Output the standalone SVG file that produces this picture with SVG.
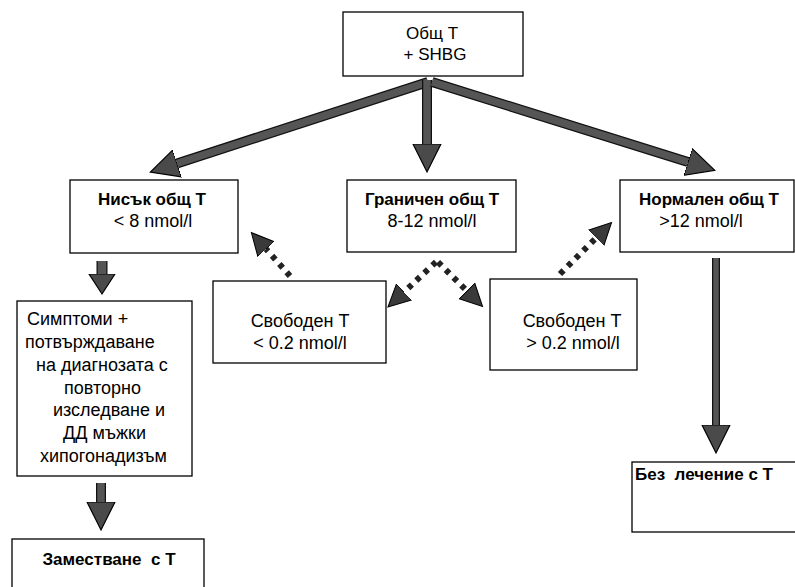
<svg xmlns="http://www.w3.org/2000/svg" width="795" height="587" viewBox="0 0 795 587">
<style>
.box{fill:#fff;stroke:#000;stroke-width:1.3}
text{font-family:"Liberation Sans",Arial,sans-serif;font-size:18px;fill:#000}
.b{font-weight:bold;font-size:17px}
.c{text-anchor:middle}
.t{font-size:17px}
.thick{stroke:#555;fill:none}
.edge{stroke:#111;fill:none}
.dot{stroke:#222;stroke-width:6;stroke-dasharray:5 6;fill:none}
</style>
<defs>
<marker id="headL" viewBox="0 -16 30 32" refX="0" refY="0" markerWidth="30" markerHeight="32" markerUnits="userSpaceOnUse" orient="auto">
<path d="M0,-14 L28,0 L0,14 z" fill="#4a4a4a" stroke="#000" stroke-width="1.2"/>
</marker>
<marker id="headS" viewBox="0 -16 24 32" refX="0" refY="0" markerWidth="24" markerHeight="32" markerUnits="userSpaceOnUse" orient="auto">
<path d="M0,-13 L20,0 L0,13 z" fill="#4a4a4a" stroke="#000" stroke-width="1.2"/>
</marker>
<marker id="headD" viewBox="0 -13 24 26" refX="0" refY="0" markerWidth="24" markerHeight="26" markerUnits="userSpaceOnUse" orient="auto">
<path d="M0,-11 L22,0 L0,11 z" fill="#3a3a3a" stroke="#000" stroke-width="1"/>
</marker>
</defs>
<g id="connectors">
<line class="edge" x1="428" y1="82" x2="177" y2="163.5" stroke-width="10"/>
<line class="thick" x1="428" y1="82" x2="177" y2="163.5" stroke-width="7.5" marker-end="url(#headL)"/>
<line class="edge" x1="427" y1="80" x2="427" y2="144" stroke-width="10"/>
<line class="thick" x1="427" y1="80" x2="427" y2="144" stroke-width="7.5" marker-end="url(#headL)"/>
<line class="edge" x1="432" y1="82" x2="688" y2="162" stroke-width="10"/>
<line class="thick" x1="432" y1="82" x2="688" y2="162" stroke-width="7.5" marker-end="url(#headL)"/>
<line class="edge" x1="102" y1="261" x2="102" y2="274" stroke-width="11"/>
<line class="thick" x1="102" y1="261" x2="102" y2="274" stroke-width="8.5" marker-end="url(#headS)"/>
<line class="edge" x1="101" y1="483" x2="101" y2="502" stroke-width="10"/>
<line class="thick" x1="101" y1="483" x2="101" y2="502" stroke-width="7.5" marker-end="url(#headL)"/>
<line class="edge" x1="716" y1="258" x2="716" y2="425" stroke-width="8"/>
<line class="thick" x1="716" y1="258" x2="716" y2="425" stroke-width="5.5" marker-end="url(#headL)"/>
<line class="dot" x1="290" y1="276" x2="266" y2="249" marker-end="url(#headD)"/>
<line class="dot" x1="560" y1="274" x2="596" y2="238" marker-end="url(#headD)"/>
<line class="dot" x1="436" y1="262" x2="404" y2="292" marker-end="url(#headD)"/>
<line class="dot" x1="438" y1="262" x2="467" y2="291" marker-end="url(#headD)"/>
</g>
<g id="total">
<rect class="box" x="343" y="12" width="180" height="64"/>
<text class="c t" x="432" y="39">Общ Т</text>
<text class="c t" x="435" y="60">+ SHBG</text>
</g>
<g id="low">
<rect class="box" x="70" y="180" width="168" height="73"/>
<text class="c b" x="152" y="205">Нисък общ Т</text>
<text class="c" x="153" y="227">&lt; 8 nmol/l</text>
</g>
<g id="border">
<rect class="box" x="347" y="180" width="169" height="72"/>
<text class="c b" x="432" y="205">Граничен общ Т</text>
<text class="c" x="432" y="227">8-12 nmol/l</text>
</g>
<g id="normal">
<rect class="box" x="620" y="180" width="174" height="72"/>
<text class="c b" x="709" y="205">Нормален общ Т</text>
<text class="c" x="701" y="227">&gt;12 nmol/l</text>
</g>
<g id="freeLow">
<rect class="box" x="213" y="281" width="173" height="82"/>
<text class="c" x="300" y="327">Свободен Т</text>
<text class="c" x="300" y="349">&lt; 0.2 nmol/l</text>
</g>
<g id="freeHigh">
<rect class="box" x="490" y="279" width="147" height="91"/>
<text class="c" x="572" y="327">Свободен Т</text>
<text class="c" x="573" y="349">&gt; 0.2 nmol/l</text>
</g>
<g id="symptoms">
<rect class="box" x="17" y="301" width="175" height="175"/>
<text x="27" y="325">Симптоми +</text>
<text x="25" y="348">потвърждаване</text>
<text x="36" y="371">на диагнозата с</text>
<text x="64" y="394">повторно</text>
<text x="53" y="416">изследване и</text>
<text x="63" y="439">ДД мъжки</text>
<text x="40" y="462">хипогонадизъм</text>
</g>
<g id="replace">
<rect class="box" x="12" y="539" width="192" height="70"/>
<text class="c b" x="109" y="565" xml:space="preserve">Заместване  с Т</text>
</g>
<g id="notreat">
<rect class="box" x="632" y="462" width="175" height="70"/>
<text class="b" x="635" y="480" xml:space="preserve">Без  лечение с Т</text>
</g>
</svg>
